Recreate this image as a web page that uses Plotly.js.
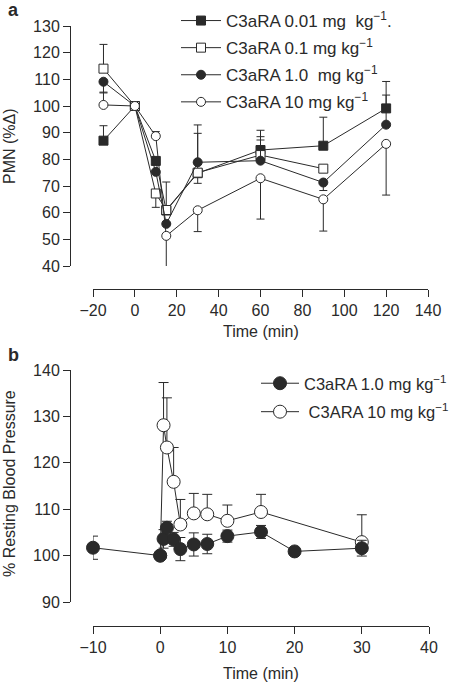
<!DOCTYPE html>
<html>
<head>
<meta charset="utf-8">
<script src="https://cdn.plot.ly/plotly-3.0.1.min.js"></script>
<style>html,body{margin:0;padding:0;background:#fff}#chart{width:450px;height:683px}</style>
</head>
<body>
<div id="chart"></div>
<script>
// ---- Panel a: PMN (%Δ) vs time ----
var timesA = [-15, 0, 10, 15, 30, 60, 90, 120];
var pmn001 = [87, 100, 79.4, 60.8, 74.8, 83.5, 85.1, 99.1];
var pmn001Up = [5.6, 0, 0, 10.7, 0, 7.4, 10.7, 10.1];
var pmn001Dn = [0, 0, 0, 0, 3.8, 0, 0, 0];
var pmn01 = [114, 100, 67.2, 61, 75, 81.6, 76.5, null];
var pmn01Up = [9.1, 0, 0, 0, 14.75, 6.9, 0, 0];
var pmn01Dn = [0, 0, 5.2, 0, 0, 0, 0, 0];
var pmn1 = [109.1, 100, 75.3, 55.8, 78.9, 79.5, 71.3, 93];
var pmn1Up = [0, 0, 0, 0, 14, 7.75, 0, 11.1];
var pmn1Dn = [4.2, 0, 0, 0, 0, 0, 3, 0];
var pmn10 = [100.4, 100, 88.7, 51.3, 60.9, 72.9, 65, 85.8];
var pmn10Up = [4.8, 0, 1.7, 0, 0, 0, 0, 0];
var pmn10Dn = [0, 0, 0, 12.5, 8, 15.3, 11.9, 19.2];
var namesA = ['C3aRA 0.01 mg\u00a0\u00a0kg<sup>\u22121</sup>.', 'C3aRA 0.1 mg kg<sup>\u22121</sup>',
              'C3aRA 1.0\u00a0\u00a0mg kg<sup>\u22121</sup>', 'C3aRA 10 mg kg<sup>\u22121</sup>'];
var xTicksA = [-20, 0, 20, 40, 60, 80, 100, 120, 140];
var yTicksA = [40, 50, 60, 70, 80, 90, 100, 110, 120, 130];

// ---- Panel b: % resting blood pressure ----
var timesB1 = [-10, 0, 0.5, 1, 2, 3, 5, 7, 10, 15, 20, 30];
var bp1 = [101.7, 100, 103.6, 106, 103.5, 101.4, 102.4, 102.5, 104.2, 105.1, 100.9, 101.6];
var bp1Err = [2.5, 0, 2, 1.4, 1.5, 2.5, 2.5, 2.1, 1.3, 1.4, 0, 1.7];
var timesB10 = [0, 0.5, 1, 2, 3, 5, 7, 10, 15, 30];
var bp10 = [100, 128.1, 123.3, 115.9, 106.7, 109.1, 108.9, 107.5, 109.4, 102.9];
var bp10Up = [0, 9.2, 10.7, 7.4, 5.4, 4.3, 4.3, 3.4, 3.8, 5.9];
var namesB = ['C3aRA 1.0 mg kg<sup>\u22121</sup>', '\u00a0C3ARA 10 mg kg<sup>\u22121</sup>'];
var xTicksB = [-10, 0, 10, 20, 30, 40];
var yTicksB = [90, 100, 110, 120, 130, 140];

var W = 450, H = 683;
function fx(px) { return px / W; }
function fy(py) { return 1 - py / H; }
var ink = '#2a2a2a';
var FONT = 'Liberation Sans, Arial, sans-serif';

function err(up, dn, w) {
  return {type: 'data', symmetric: false, array: up, arrayminus: dn,
          color: ink, thickness: 1, width: w};
}

var traces = [];
function addA(y, up, dn, sym, fill, name, grp) {
  traces.push({
    type: 'scatter', mode: 'lines+markers', x: timesA, y: y, name: name,
    xaxis: 'x', yaxis: 'y', legend: 'legend', legendgroup: grp, cliponaxis: false,
    line: {color: ink, width: 1},
    marker: {symbol: sym, size: 9, color: fill, line: {color: ink, width: 1}},
    error_y: err(up, dn, 4)
  });
}
addA(pmn001, pmn001Up, pmn001Dn, 'square', ink, namesA[0], 'a1');
addA(pmn01, pmn01Up, pmn01Dn, 'square', '#ffffff', namesA[1], 'a2');
addA(pmn1, pmn1Up, pmn1Dn, 'circle', ink, namesA[2], 'a3');
addA(pmn10, pmn10Up, pmn10Dn, 'circle', '#ffffff', namesA[3], 'a4');

// open series drawn first so filled markers sit on top
traces.push({
  type: 'scatter', mode: 'lines+markers', x: timesB10, y: bp10, name: namesB[1],
  xaxis: 'x2', yaxis: 'y2', legend: 'legend2', legendgroup: 'b2', legendrank: 2, cliponaxis: false,
  line: {color: ink, width: 1},
  marker: {symbol: 'circle', size: 13, color: '#ffffff', line: {color: ink, width: 1}},
  error_y: err(bp10Up, timesB10.map(function(){return 0;}), 5)
});
traces.push({
  type: 'scatter', mode: 'lines+markers', x: timesB1, y: bp1, name: namesB[0],
  xaxis: 'x2', yaxis: 'y2', legend: 'legend2', legendgroup: 'b1', legendrank: 1, cliponaxis: false,
  line: {color: ink, width: 1},
  marker: {symbol: 'circle', size: 13, color: ink, line: {color: ink, width: 1}},
  error_y: {type: 'data', array: bp1Err, color: ink, thickness: 1, width: 5}
});

function xax(dom, pos, range, ticks) {
  return {domain: dom, anchor: 'free', position: pos, range: range,
    tickmode: 'array', tickvals: ticks, showgrid: false, zeroline: false,
    showline: true, linecolor: ink, linewidth: 1, ticks: 'outside', ticklen: 7,
    tickcolor: ink, tickwidth: 1, tickfont: {size: 16, color: ink, family: FONT}, fixedrange: true};
}
function yax(dom, pos, range, ticks) {
  return {domain: dom, anchor: 'free', position: pos, range: range,
    tickmode: 'array', tickvals: ticks, showgrid: false, zeroline: false,
    showline: true, linecolor: ink, linewidth: 1, ticks: 'outside', ticklen: 7,
    tickcolor: ink, tickwidth: 1, tickfont: {size: 16, color: ink, family: FONT}, fixedrange: true};
}

var layout = {
  width: W, height: H, margin: {l: 0, r: 0, t: 0, b: 0, autoexpand: false},
  paper_bgcolor: '#fff', plot_bgcolor: 'rgba(0,0,0,0)',
  font: {family: FONT, color: ink, size: 16},
  showlegend: true,
  xaxis: xax([fx(93), fx(428)], fy(289), [-20, 140], xTicksA),
  yaxis: yax([fy(266), fy(26)], fx(70), [40, 130], yTicksA),
  xaxis2: xax([fx(93), fx(429)], fy(626), [-10, 40], xTicksB),
  yaxis2: yax([fy(602), fy(370)], fx(70), [90, 140], yTicksB),
  legend: {x: fx(176), y: fy(3), xanchor: 'left', yanchor: 'top', bgcolor: 'rgba(0,0,0,0)',
           font: {size: 17, color: ink, family: FONT}, traceorder: 'grouped', tracegroupgap: 2, itemwidth: 40},
  legend2: {x: fx(256), y: fy(366), xanchor: 'left', yanchor: 'top', bgcolor: 'rgba(0,0,0,0)',
           font: {size: 16.5, color: ink, family: FONT}, traceorder: 'grouped', tracegroupgap: 4, itemwidth: 38},
  annotations: [
    {text: '<b>a</b>', xref: 'paper', yref: 'paper', x: fx(6), y: fy(-2), xanchor: 'left', yanchor: 'top', showarrow: false, font: {size: 18, color: ink}},
    {text: '<b>b</b>', xref: 'paper', yref: 'paper', x: fx(6), y: fy(343), xanchor: 'left', yanchor: 'top', showarrow: false, font: {size: 18, color: ink}},
    {text: 'PMN (%\u0394)', xref: 'paper', yref: 'paper', x: fx(9), y: fy(146), xanchor: 'center', yanchor: 'middle', textangle: -90, showarrow: false, font: {size: 16, color: ink}},
    {text: 'Time (min)', xref: 'paper', yref: 'paper', x: fx(261), y: fy(331), xanchor: 'center', yanchor: 'middle', showarrow: false, font: {size: 16, color: ink}},
    {text: '% Resting Blood Pressure', xref: 'paper', yref: 'paper', x: fx(9), y: fy(484), xanchor: 'center', yanchor: 'middle', textangle: -90, showarrow: false, font: {size: 16, color: ink}},
    {text: 'Time (min)', xref: 'paper', yref: 'paper', x: fx(261), y: fy(673), xanchor: 'center', yanchor: 'middle', showarrow: false, font: {size: 16, color: ink}}
  ]
};

Plotly.newPlot('chart', traces, layout, {displayModeBar: false, staticPlot: true});
</script>
</body>
</html>
